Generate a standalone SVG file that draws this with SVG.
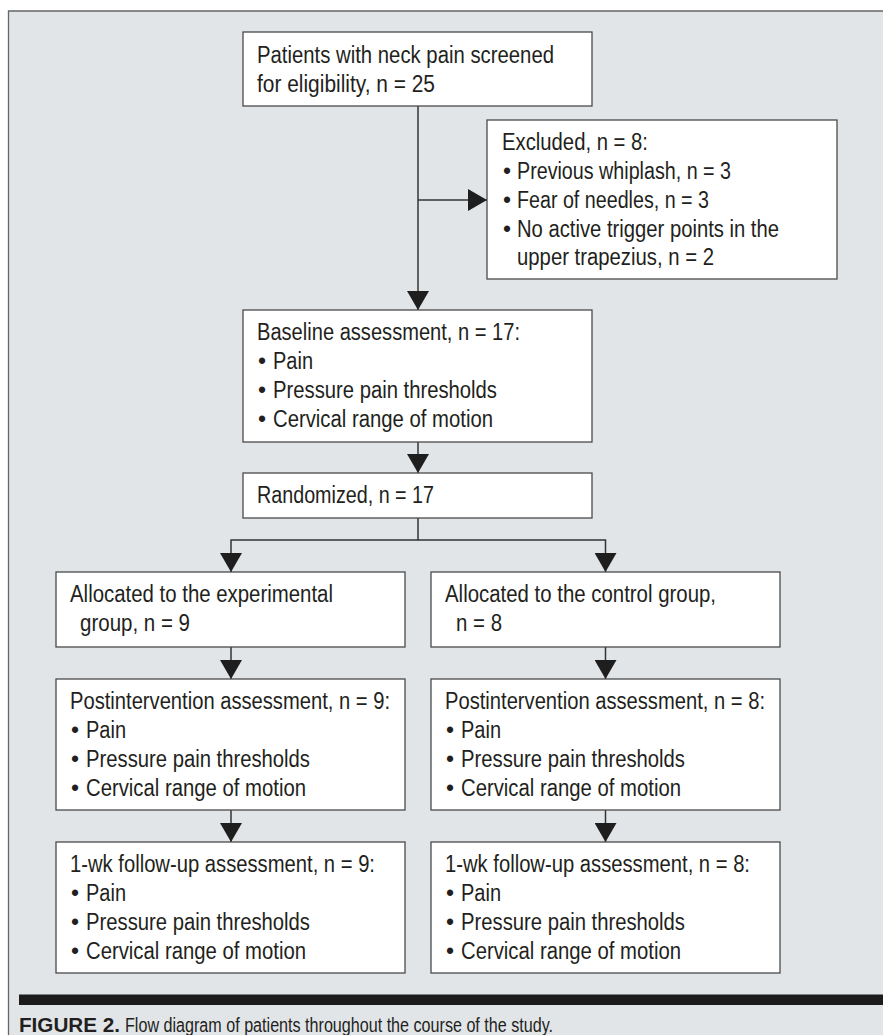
<svg xmlns="http://www.w3.org/2000/svg" width="883" height="1035" viewBox="0 0 883 1035">
<style>
.box{fill:#ffffff;stroke:#4a4a4a;stroke-width:1.3}
.t{font-family:"Liberation Sans",Arial,sans-serif;font-size:23px;fill:#231f20}
.cap{font-family:"Liberation Sans",Arial,sans-serif;font-size:20px;fill:#231f20}
.b{font-weight:bold}
.c{fill:none;stroke:#333333;stroke-width:1.5}
</style>
<defs>
<marker id="ah" viewBox="0 0 19 22" refX="19" refY="11" markerWidth="19" markerHeight="22" markerUnits="userSpaceOnUse" orient="auto">
<path d="M0,0 L19,11 L0,22 Z" fill="#1e1e1e"/>
</marker>
</defs>
<rect x="0" y="0" width="883" height="1035" fill="#ffffff"/>
<rect x="8.5" y="11" width="874.5" height="1024" fill="#e2e5e8"/>
<path d="M8.5 1035 V11 H883" fill="none" stroke="#666666" stroke-width="1.3"/>

<g id="connectors">
<path class="c" d="M418 106 V310" marker-end="url(#ah)"/>
<path class="c" d="M418 200 H487" marker-end="url(#ah)"/>
<path class="c" d="M418 442 V473" marker-end="url(#ah)"/>
<path class="c" d="M418 518 V540 H231 V572" marker-end="url(#ah)"/>
<path class="c" d="M418 540 H605.5 V572" marker-end="url(#ah)"/>
<path class="c" d="M231 647 V679" marker-end="url(#ah)"/>
<path class="c" d="M605.5 647 V679" marker-end="url(#ah)"/>
<path class="c" d="M231 810 V842" marker-end="url(#ah)"/>
<path class="c" d="M605.5 810 V842" marker-end="url(#ah)"/>
</g>

<g id="screened">
<rect class="box" x="243" y="32" width="349" height="74"/>
<text class="t" x="257" y="63" textLength="297" lengthAdjust="spacingAndGlyphs">Patients with neck pain screened</text>
<text class="t" x="257" y="92" textLength="178" lengthAdjust="spacingAndGlyphs">for eligibility, n = 25</text>
</g>

<g id="excluded">
<rect class="box" x="487" y="120" width="350" height="159"/>
<text class="t" x="502" y="150" textLength="146" lengthAdjust="spacingAndGlyphs">Excluded, n = 8:</text>
<text class="t" y="179"><tspan x="503">•</tspan><tspan x="517" textLength="214" lengthAdjust="spacingAndGlyphs">Previous whiplash, n = 3</tspan></text>
<text class="t" y="208"><tspan x="503">•</tspan><tspan x="517" textLength="192" lengthAdjust="spacingAndGlyphs">Fear of needles, n = 3</tspan></text>
<text class="t" y="237"><tspan x="503">•</tspan><tspan x="517" textLength="262" lengthAdjust="spacingAndGlyphs">No active trigger points in the</tspan></text>
<text class="t" x="517" y="265" textLength="197" lengthAdjust="spacingAndGlyphs">upper trapezius, n = 2</text>
</g>

<g id="baseline">
<rect class="box" x="243" y="310" width="349" height="132"/>
<text class="t" x="257" y="340" textLength="263" lengthAdjust="spacingAndGlyphs">Baseline assessment, n = 17:</text>
<text class="t" y="369"><tspan x="258">•</tspan><tspan x="273" textLength="40" lengthAdjust="spacingAndGlyphs">Pain</tspan></text>
<text class="t" y="398"><tspan x="258">•</tspan><tspan x="273" textLength="224" lengthAdjust="spacingAndGlyphs">Pressure pain thresholds</tspan></text>
<text class="t" y="427"><tspan x="258">•</tspan><tspan x="273" textLength="220" lengthAdjust="spacingAndGlyphs">Cervical range of motion</tspan></text>
</g>

<g id="randomized">
<rect class="box" x="243" y="473" width="349" height="45"/>
<text class="t" x="257" y="503" textLength="177" lengthAdjust="spacingAndGlyphs">Randomized, n = 17</text>
</g>

<g id="alloc-exp">
<rect class="box" x="56" y="572" width="349" height="75"/>
<text class="t" x="70" y="602" textLength="263" lengthAdjust="spacingAndGlyphs">Allocated to the experimental</text>
<text class="t" x="80" y="631" textLength="110" lengthAdjust="spacingAndGlyphs">group, n = 9</text>
</g>

<g id="alloc-ctrl">
<rect class="box" x="431" y="572" width="349" height="75"/>
<text class="t" x="445" y="602" textLength="271" lengthAdjust="spacingAndGlyphs">Allocated to the control group,</text>
<text class="t" x="456" y="631" textLength="46" lengthAdjust="spacingAndGlyphs">n = 8</text>
</g>

<g id="post-exp">
<rect class="box" x="56" y="679" width="349" height="131"/>
<text class="t" x="70" y="709" textLength="320" lengthAdjust="spacingAndGlyphs">Postintervention assessment, n = 9:</text>
<text class="t" y="738"><tspan x="71">•</tspan><tspan x="86" textLength="40" lengthAdjust="spacingAndGlyphs">Pain</tspan></text>
<text class="t" y="767"><tspan x="71">•</tspan><tspan x="86" textLength="224" lengthAdjust="spacingAndGlyphs">Pressure pain thresholds</tspan></text>
<text class="t" y="796"><tspan x="71">•</tspan><tspan x="86" textLength="220" lengthAdjust="spacingAndGlyphs">Cervical range of motion</tspan></text>
</g>

<g id="post-ctrl">
<rect class="box" x="431" y="679" width="349" height="131"/>
<text class="t" x="445" y="709" textLength="320" lengthAdjust="spacingAndGlyphs">Postintervention assessment, n = 8:</text>
<text class="t" y="738"><tspan x="446">•</tspan><tspan x="461" textLength="40" lengthAdjust="spacingAndGlyphs">Pain</tspan></text>
<text class="t" y="767"><tspan x="446">•</tspan><tspan x="461" textLength="224" lengthAdjust="spacingAndGlyphs">Pressure pain thresholds</tspan></text>
<text class="t" y="796"><tspan x="446">•</tspan><tspan x="461" textLength="220" lengthAdjust="spacingAndGlyphs">Cervical range of motion</tspan></text>
</g>

<g id="followup-exp">
<rect class="box" x="56" y="842" width="349" height="131"/>
<text class="t" x="70" y="872" textLength="305" lengthAdjust="spacingAndGlyphs">1-wk follow-up assessment, n = 9:</text>
<text class="t" y="901"><tspan x="71">•</tspan><tspan x="86" textLength="40" lengthAdjust="spacingAndGlyphs">Pain</tspan></text>
<text class="t" y="930"><tspan x="71">•</tspan><tspan x="86" textLength="224" lengthAdjust="spacingAndGlyphs">Pressure pain thresholds</tspan></text>
<text class="t" y="959"><tspan x="71">•</tspan><tspan x="86" textLength="220" lengthAdjust="spacingAndGlyphs">Cervical range of motion</tspan></text>
</g>

<g id="followup-ctrl">
<rect class="box" x="431" y="842" width="349" height="131"/>
<text class="t" x="445" y="872" textLength="305" lengthAdjust="spacingAndGlyphs">1-wk follow-up assessment, n = 8:</text>
<text class="t" y="901"><tspan x="446">•</tspan><tspan x="461" textLength="40" lengthAdjust="spacingAndGlyphs">Pain</tspan></text>
<text class="t" y="930"><tspan x="446">•</tspan><tspan x="461" textLength="224" lengthAdjust="spacingAndGlyphs">Pressure pain thresholds</tspan></text>
<text class="t" y="959"><tspan x="446">•</tspan><tspan x="461" textLength="220" lengthAdjust="spacingAndGlyphs">Cervical range of motion</tspan></text>
</g>

<g id="caption">
<rect x="19" y="994.5" width="864" height="10.5" fill="#1c1c1c"/>
<text class="cap" y="1032"><tspan class="b" x="19" textLength="101" lengthAdjust="spacingAndGlyphs">FIGURE 2.</tspan><tspan x="125" textLength="428" lengthAdjust="spacingAndGlyphs">Flow diagram of patients throughout the course of the study.</tspan></text>
</g>
</svg>
